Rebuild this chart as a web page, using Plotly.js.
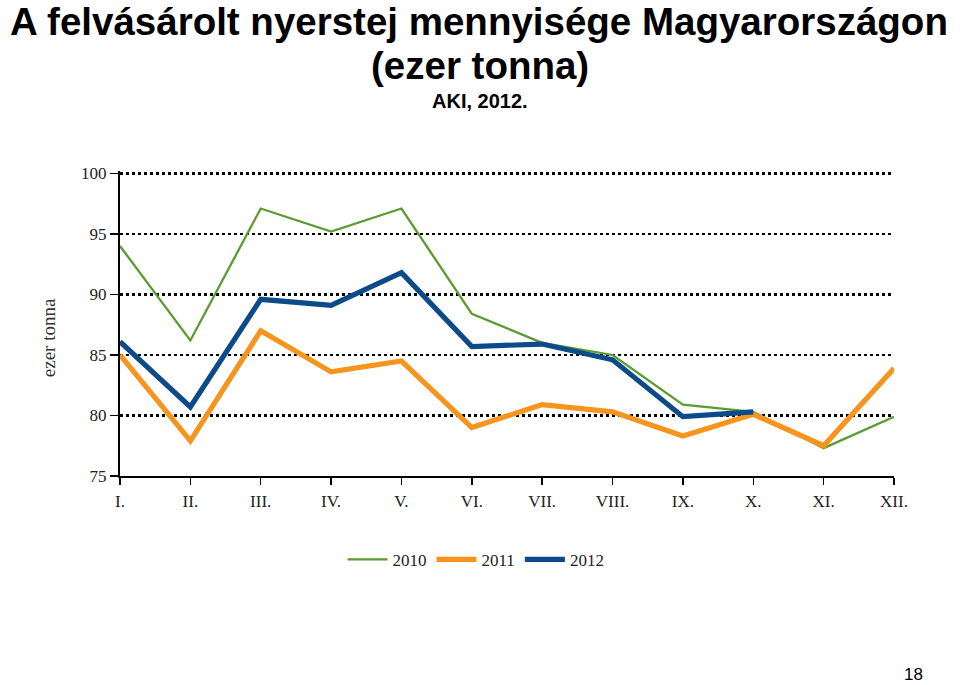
<!DOCTYPE html>
<html>
<head>
<meta charset="utf-8">
<script src="https://cdn.plot.ly/plotly-3.0.1.min.js"></script>
<style>html,body{margin:0;padding:0;background:#fff;}#chart{width:960px;height:685px;}</style>
</head>
<body>
<div id="chart"></div>
<script>
const months = ["I.", "II.", "III.", "IV.", "V.", "VI.", "VII.", "VIII.", "IX.", "X.", "XI.", "XII."];
const y2010 = [94.0, 86.2, 97.1, 95.2, 97.1, 88.4, 86.0, 85.0, 80.9, 80.3, 77.3, 79.9];
const y2011 = [85.0, 77.9, 87.0, 83.6, 84.5, 79.0, 80.9, 80.3, 78.3, 80.1, 77.5, 83.9];
const y2012 = [86.1, 80.7, 89.6, 89.1, 91.8, 85.7, 85.9, 84.6, 79.9, 80.3];
const seriesNames = ["2010", "2011", "2012"];

const serif = "Liberation Serif, Times New Roman, serif";
const sans = "Liberation Sans Narrow, Liberation Sans, Arial, sans-serif";

const traces = [
  {x: months, y: y2010, name: seriesNames[0], type: "scatter", mode: "lines",
   line: {color: "#5b9b32", width: 2.3}, cliponaxis: false},
  {x: months, y: y2011, name: seriesNames[1], type: "scatter", mode: "lines",
   line: {color: "#f7941d", width: 5.2}, cliponaxis: false},
  {x: months.slice(0, y2012.length), y: y2012, name: seriesNames[2], type: "scatter", mode: "lines",
   line: {color: "#0d4a8a", width: 5.2}, cliponaxis: false}
];

const TOP = 170.5, BOT = 476;
const PH = BOT - TOP;
function py(p) { return (BOT - p) / PH; }
function px(p) { return (p - 120) / 774; }

const layout = {
  width: 960, height: 685,
  paper_bgcolor: "#fff", plot_bgcolor: "#fff",
  margin: {l: 120, r: 66, t: TOP, b: 685 - BOT},
  showlegend: true,
  xaxis: {
    type: "category", range: [0, 11],
    showgrid: false, zeroline: false,
    showline: true, linecolor: "#000", linewidth: 2,
    ticks: "outside", ticklen: 7, tickwidth: 1.5, tickcolor: "#000",
    ticklabelstandoff: 2,
    tickfont: {family: serif, size: 17, color: "#222"},
    fixedrange: true
  },
  yaxis: {
    range: [75, 100.2], dtick: 5, tick0: 75,
    showgrid: true, gridcolor: "#000", gridwidth: 2.2, griddash: "dot",
    zeroline: false,
    showline: true, linecolor: "#000", linewidth: 2,
    ticks: "outside", ticklen: 8, tickwidth: 1.5, tickcolor: "#000",
    tickfont: {family: serif, size: 17, color: "#222"},
    fixedrange: true
  },
  legend: {
    orientation: "h", x: px(476), xanchor: "center", y: py(560), yanchor: "middle",
    font: {family: serif, size: 17, color: "#222"},
    bgcolor: "rgba(0,0,0,0)", itemwidth: 40, tracegroupgap: 0
  },
  annotations: [
    {text: "<b>A felvásárolt nyerstej mennyisége Magyarországon</b>", xref: "paper", yref: "paper",
     x: px(479), y: py(21), xanchor: "center", yanchor: "middle", showarrow: false,
     font: {family: sans, size: 38.5, color: "#000"}},
    {text: "<b>(ezer tonna)</b>", xref: "paper", yref: "paper",
     x: px(480), y: py(65), xanchor: "center", yanchor: "middle", showarrow: false,
     font: {family: sans, size: 38.5, color: "#000"}},
    {text: "<b>AKI, 2012.</b>", xref: "paper", yref: "paper",
     x: px(480), y: py(100), xanchor: "center", yanchor: "middle", showarrow: false,
     font: {family: sans, size: 20, color: "#000"}},
    {text: "ezer tonna", xref: "paper", yref: "paper", x: px(48), y: py(338),
     xanchor: "center", yanchor: "middle", textangle: -90, showarrow: false,
     font: {family: serif, size: 19, color: "#333"}},
    {text: "18", xref: "paper", yref: "paper", x: px(913), y: py(675),
     xanchor: "center", yanchor: "middle", showarrow: false,
     font: {family: "Liberation Sans, Arial, sans-serif", size: 17, color: "#000"}}
  ]
};

Plotly.newPlot("chart", traces, layout, {displayModeBar: false, staticPlot: true});
</script>
</body>
</html>
